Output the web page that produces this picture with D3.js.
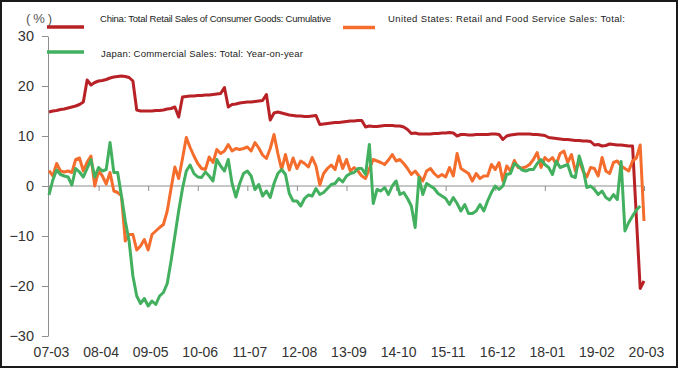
<!DOCTYPE html>
<html>
<head>
<meta charset="utf-8">
<script src="https://cdn.jsdelivr.net/npm/d3@7/dist/d3.min.js"></script>
<style>
  body { margin: 0; background: #fff; }
  svg { display: block; font-family: "Liberation Sans", Arial, sans-serif; }
</style>
</head>
<body>
<div id="chart"></div>
<script>
// tick labels on the x axis (every 13 months)
var tickLabels = ["07-03", "08-04", "09-05", "10-06", "11-07", "12-08", "13-09",
                  "14-10", "15-11", "16-12", "18-01", "19-02", "20-03"];
var yTicks = [-30, -20, -10, 0, 10, 20, 30];

// China: total retail sales of consumer goods, cumulative yoy (%), Jan 2020 not published
var china = [14.8, 15.0, 15.1, 15.3, 15.4, 15.6, 15.8, 16.0, 16.3, 16.8,
             21.2, 20.2, 20.7, 21.0, 21.1, 21.3, 21.6, 21.8, 21.9, 22.0,
             21.9, 21.7, 21.0, 15.2, 15.0, 15.0, 15.0, 15.0, 15.1, 15.1,
             15.2, 15.4, 15.5, 15.8, 13.8, 17.8, 17.9, 18.0, 18.0, 18.1,
             18.1, 18.2, 18.2, 18.3, 18.4, 18.5, 19.7, 15.8, 16.3, 16.4,
             16.6, 16.7, 16.8, 16.8, 16.9, 17.0, 17.1, 18.3, 13.2, 14.6,
             14.8, 14.6, 14.4, 14.2, 14.1, 14.0, 14.0, 13.9, 13.9, 14.0,
             14.1, 12.3, 12.4, 12.5, 12.6, 12.7, 12.7, 12.8, 12.9, 13.0,
             13.0, 13.1, 13.1, 11.8, 12.0, 11.9, 11.9, 12.0, 12.1, 12.1,
             12.1, 12.0, 12.0, 11.8, 11.3, 10.5, 10.6, 10.4, 10.4, 10.4,
             10.4, 10.5, 10.5, 10.6, 10.6, 10.7, 10.6, 10.0, 10.3, 10.3,
             10.2, 10.2, 10.3, 10.3, 10.3, 10.3, 10.4, 10.4, 10.3, 9.3,
             10.0, 10.2, 10.3, 10.4, 10.4, 10.4, 10.4, 10.3, 10.3, 10.2,
             10.1, 9.7, 9.6, 9.5, 9.4, 9.3, 9.3, 9.2, 9.1, 9.1,
             9.0, 9.0, 8.9, 8.2, 8.3, 8.0, 8.1, 8.4, 8.3, 8.2,
             8.2, 8.1, 8.0, 8.0, null, -20.5, -19.0];

// United States: retail and food service sales, yoy (%)
var us = [3.1, 2.0, 4.5, 3.0, 2.8, 3.0, 2.7, 5.3, 5.6, 3.0,
          4.8, 6.0, 0.0, 3.0, 2.0, 0.4, 2.7, -1.0, -1.3, -2.0,
          -11.0, -9.7, -9.7, -12.8, -12.0, -10.7, -12.8, -9.7, -9.0, -8.3,
          -7.7, -5.0, -0.5, 3.8, 1.5, 5.5, 9.7, 7.7, 6.0, 4.5,
          3.5, 3.3, 5.8, 4.7, 7.3, 6.5, 7.0, 8.3, 7.0, 7.5,
          7.3, 7.5, 7.8, 7.0, 8.7, 7.6, 6.2, 5.5, 7.5, 10.3,
          6.5, 3.3, 6.3, 3.2, 5.6, 3.5, 5.0, 4.5, 3.8, 5.7,
          4.0, 0.2, 2.5, 3.5, 4.2, 3.3, 6.0, 3.5, 5.3, 3.0,
          3.7, 3.0, 2.0, 1.5, 3.5, 5.3, 5.0, 4.7, 4.3, 5.2,
          6.3, 5.0, 5.3, 4.5, 3.5, 2.3, 3.0, 2.0, 1.0, 3.0,
          3.5, 2.5, 1.8, 2.3, 1.8, 3.7, 2.0, 6.5, 3.5, 3.0,
          2.5, 1.0, 2.5, 1.5, 2.0, 2.0, 4.3, 3.3, 4.7, 1.0,
          4.0, 3.0, 5.1, 3.7, 3.6, 3.8, 4.3, 5.3, 6.7, 3.7,
          5.7, 5.0, 5.7, 4.3, 6.5, 7.0, 4.7, 6.3, 3.0, 5.0,
          3.0, 1.8, 3.7, 3.5, 2.0, 5.7, 3.0, 2.5, 4.7, 5.0,
          4.0, 3.5, 3.0, 5.0, 5.6, 8.2, -7.0];

// Japan: commercial sales total, yoy (%), Mar 2020 not yet out
var japan = [-1.8, 1.2, 3.2, 2.3, 2.0, 1.8, 0.2, 3.5, 2.8, 1.8,
             3.5, 5.3, 1.8, 3.7, 3.0, 3.3, 8.7, 2.7, 2.7, -2.0,
             -7.0, -11.0, -18.0, -22.0, -23.5, -22.5, -24.0, -23.0, -23.7, -22.0,
             -21.3, -19.5, -15.0, -10.0, -5.0, -0.5, 3.0, 4.2, 2.5, 1.8,
             1.7, 2.8, 2.0, 1.0, 5.3, 4.0, 3.0, 5.3, 0.5, -2.2,
             0.5, 2.5, 3.0, 2.0, -0.7, 0.3, -2.0, -1.0, -2.3, 0.5,
             2.5, 3.3, 2.3, -1.5, -3.0, -3.0, -4.0, -2.5, -1.8, -2.0,
             -0.5, -1.7, -1.3, -0.5, 0.3, 0.5, 1.5, 0.8, 2.0, 2.5,
             2.7, 3.5, 3.5, 2.3, 8.3, -3.5, -0.7, -1.0, -0.3, -1.7,
             0.0, 1.0, -1.7, -1.3, -2.5, -4.0, -8.3, 1.7, -1.7, 0.5,
             0.0, -0.5, -1.5, -2.0, -2.5, -3.7, -2.3, -3.5, -5.0, -3.7,
             -5.5, -5.5, -5.0, -3.7, -5.0, -3.0, -1.3, 0.0, -0.7, 0.0,
             2.3, 2.5, 4.5, 4.0, 3.2, 3.0, 3.3, 3.3, 4.5, 5.3,
             4.3, 3.7, 2.3, 5.0, 3.7, 4.0, 4.3, 2.0, 1.7, 6.0,
             3.5, -0.3, 0.0, -0.7, -1.7, -1.0, -2.3, -2.8, -1.7, -2.7,
             4.9, -9.0, -7.3, -6.0, -4.8, -4.0, null];

// months 07-03 .. 20-03 as "yy-mm"
var months = [];
for (var i = 0; i < china.length; i += 1) {
  var mm = 2 + i;
  var yy = 7 + Math.floor(mm / 12);
  months.push(d3.format("02")(yy) + "-" + d3.format("02")(mm % 12 + 1));
}

var seriesList = [
  {name: "China: Total Retail Sales of Consumer Goods: Cumulative", values: china, color: "#b82226"},
  {name: "United States: Retail and Food Service Sales: Total:", values: us, color: "#f46d2c"},
  {name: "Japan: Commercial Sales: Total: Year-on-year", values: japan, color: "#42b05f"}
];

var width = 681, height = 370;

var svg = d3.select("#chart")
  .append("svg")
  .attr("width", width)
  .attr("height", height);

svg.append("rect")
  .attr("x", 1).attr("y", 1)
  .attr("width", 676).attr("height", 366)
  .attr("fill", "#fff")
  .attr("stroke", "#1a1a1a")
  .attr("stroke-width", 2);

var x = d3.scalePoint().domain(months).range([49, 644]);
var y = d3.scaleLinear().domain([-30, 30]).range([336, 36]);

// zero line with small ticks
var zeroAxis = svg.append("g")
  .attr("transform", "translate(0," + y(0) + ")")
  .call(d3.axisBottom(x).tickValues(tickLabels).tickSize(5).tickSizeOuter(0).tickFormat(""));
zeroAxis.select(".domain").attr("d", "M48,0H644");

// labels along the bottom
var labelAxis = svg.append("g")
  .attr("transform", "translate(2,336)")
  .call(d3.axisBottom(x).tickValues(tickLabels).tickSize(0).tickPadding(11));
labelAxis.select(".domain").remove();
labelAxis.selectAll("text")
  .attr("font-size", 14)
  .attr("fill", "#333")
  .attr("font-family", "'Liberation Sans', Arial, sans-serif");

var yAxis = svg.append("g")
  .attr("transform", "translate(48,0)")
  .call(d3.axisLeft(y).tickValues(yTicks).tickSize(6).tickPadding(8).tickSizeOuter(0));
yAxis.selectAll("text")
  .attr("font-size", 14.5)
  .attr("fill", "#333")
  .attr("font-family", "'Liberation Sans', Arial, sans-serif");

svg.selectAll(".domain, .tick line").attr("stroke", "#8f8f8f");

// series lines
var line = d3.line()
  .x(function(d) { return x(d.month); })
  .y(function(d) { return y(d.value); });

seriesList.forEach(function(s) {
  var pts = [];
  s.values.forEach(function(v, i) {
    if (v !== null) { pts.push({month: months[i], value: v}); }
  });
  svg.append("path")
    .datum(pts)
    .attr("d", line)
    .attr("fill", "none")
    .attr("stroke", s.color)
    .attr("stroke-width", 3)
    .attr("stroke-linejoin", "round");
});

// legend
var legend = [
  {x1: 47, x2: 84, ly: 27, tx: 100, ty: 21.5, len: 231},
  {x1: 343, x2: 375, ly: 27.5, tx: 388, ty: 21.5, len: 237},
  {x1: 47, x2: 84, ly: 52, tx: 101, ty: 57, len: 202}
];
legend.forEach(function(l, i) {
  svg.append("line")
    .attr("x1", l.x1).attr("x2", l.x2)
    .attr("y1", l.ly).attr("y2", l.ly)
    .attr("stroke", seriesList[i].color)
    .attr("stroke-width", 3.5);
  svg.append("text")
    .attr("x", l.tx).attr("y", l.ty)
    .attr("font-size", 9.5)
    .attr("fill", "#222")
    .attr("textLength", l.len)
    .attr("lengthAdjust", "spacing")
    .text(seriesList[i].name);
});

svg.append("text")
  .attr("x", 26).attr("y", 23)
  .attr("font-size", 13)
  .attr("fill", "#555")
  .attr("textLength", 26)
  .attr("lengthAdjust", "spacing")
  .text("(%)");
</script>
</body>
</html>
